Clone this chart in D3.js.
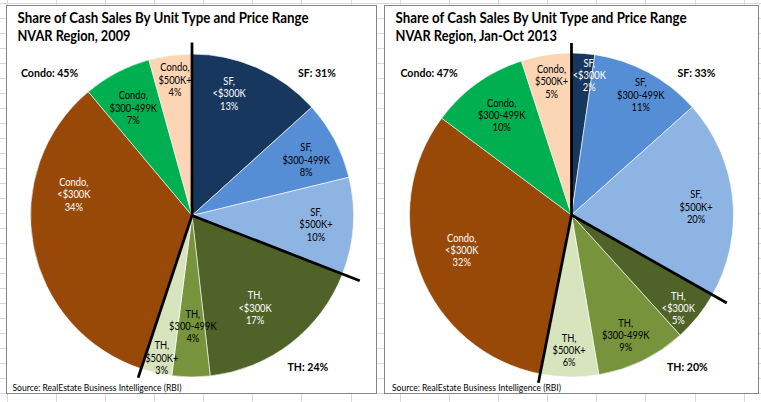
<!DOCTYPE html>
<html><head><meta charset="utf-8">
<script src="https://cdn.jsdelivr.net/npm/d3@7"></script>
<style>body{margin:0;background:#fff;} svg{display:block}</style>
</head><body><svg id="c" width="761" height="402"></svg>
<script>
// ---------- DATA ----------
const categories = ["SF, <$300K","SF, $300-499K","SF, $500K+","TH, <$300K","TH, $300-499K","TH, $500K+","Condo, <$300K","Condo, $300-499K","Condo, $500K+"];
const groupOf = ["SF","SF","SF","TH","TH","TH","Condo","Condo","Condo"];
const values2009 = [13.3,7.9,9.7,17.3,3.8,3.1,33.8,6.8,4.3];
const values2013 = [2.3,11.1,19.8,5.1,9.0,5.8,32.1,9.8,5.0];
const titles2009 = ["Share of Cash Sales By Unit Type and Price Range","NVAR Region, 2009"];
const titles2013 = ["Share of Cash Sales By Unit Type and Price Range","NVAR Region, Jan-Oct 2013"];
const sourceText = "Source: RealEstate Business Intelligence (RBI)";

// ---------- STYLE / LAYOUT ----------
const colors = ["#17375E","#558ED5","#8EB4E3","#4F6228","#77933C","#D7E4BD","#984807","#00B050","#FCD5B5"];
const textColors = ["#fff","#000","#000","#fff","#000","#000","#fff","#000","#000"];
const FONT = "Lato, 'Open Sans', sans-serif";

const panels = [
  {values: values2009, titles: titles2009, titleW:[291,113], x:6.5, y:5.5, w:370, h:388, cx:192, cy:215.5, r:161.5,
   labelR:[127.5,127,124.3,111.8,111,145.5,120,122.6,136.8],
   labelShift:[-7,1.9,0.4,3.3,-0.8,-0.8,20.8,-0.9,0.6],
   dividerLen:[173,180,171]},
  {values: values2013, titles: titles2013, titleW:[291,161.5], x:384.5, y:5.5, w:374, h:388, cx:571.5, cy:215, r:162,
   labelR:[141,138.7,124.8,141.8,131.7,135,115.2,122,134.8],
   labelShift:[3.1,1.7,2.3,2.4,1.6,0.3,3.4,0.7,0.5],
   dividerLen:[172,178.5,171]}
];

const svg = d3.select("#c");

// Excel-like gridlines background
const grid = svg.append("g").attr("stroke","#d9d9d9").attr("stroke-width",1);
for (let y = 3; y < 402; y += 15) grid.append("line").attr("x1",0).attr("x2",761).attr("y1",Math.round(y)+0.5).attr("y2",Math.round(y)+0.5);
for (let x = 6.5; x < 761; x += 49.15) grid.append("line").attr("y1",0).attr("y2",402).attr("x1",Math.round(x)+0.5).attr("x2",Math.round(x)+0.5);

function squeeze(t, factor){
  t.each(function(){
    const len = this.getComputedTextLength();
    d3.select(this).attr("textLength", len*factor).attr("lengthAdjust","spacingAndGlyphs");
  });
}
function fitWidth(t, w){
  t.attr("textLength", w).attr("lengthAdjust","spacingAndGlyphs");
}

const pie = d3.pie().sort(null).value(d => d);

panels.forEach(p => {
  const g = svg.append("g");
  g.append("rect").attr("x",p.x).attr("y",p.y).attr("width",p.w).attr("height",p.h)
    .attr("fill","#fff").attr("stroke","#868686").attr("stroke-width",1);

  // Titles
  const titleY = [23.3, 41];
  p.titles.forEach((tt,k) => {
    const t = g.append("text").attr("x",p.x+11).attr("y",titleY[k]).text(tt)
      .attr("font-family",FONT).attr("font-weight","bold").attr("font-size",14.3).attr("fill","#000");
    fitWidth(t, p.titleW[k]);
  });

  const arcs = pie(p.values);
  const arc = d3.arc().innerRadius(0).outerRadius(p.r);
  const pg = g.append("g").attr("transform",`translate(${p.cx},${p.cy})`);
  pg.selectAll("path").data(arcs).join("path")
    .attr("d",arc).attr("fill",(d,i)=>colors[i]).attr("stroke","#fff").attr("stroke-width",0.6);

  // Divider lines between unit types
  const total = d3.sum(p.values);
  const groupNames = ["SF","TH","Condo"];
  const groupSums = groupNames.map(gn => d3.sum(p.values.filter((v,i)=>groupOf[i]===gn)));
  const boundaries = [0, groupSums[0], groupSums[0]+groupSums[1]].map(v => v/total*2*Math.PI);
  boundaries.forEach((a,i) => {
    pg.append("line").attr("x1",0).attr("y1",0)
      .attr("x2",Math.sin(a)*p.dividerLen[i]).attr("y2",-Math.cos(a)*p.dividerLen[i])
      .attr("stroke","#000").attr("stroke-width",2.75);
  });

  // Slice labels
  arcs.forEach((d,i) => {
    const mid = (d.startAngle+d.endAngle)/2 + p.labelShift[i]*Math.PI/180;
    const lx = Math.sin(mid)*p.labelR[i], ly = -Math.cos(mid)*p.labelR[i];
    const parts = categories[i].split(" ");
    const lines = [parts[0], parts.slice(1).join(" "), Math.round(d.value)+"%"];
    lines.forEach((ln,k) => {
      const t = pg.append("text").attr("x",lx).attr("y",ly+(k-1)*12.2+3.8)
        .attr("text-anchor","middle").attr("font-family",FONT).attr("font-size",10.6)
        .attr("fill",textColors[i]).text(ln);
      squeeze(t, 0.88);
    });
  });

  // Group totals
  const gPos = [{dx:106, y:77},{dx:95.5, y:371},{dx:-171, y:77}];
  groupNames.forEach((gn,i) => {
    const t = g.append("text").attr("x",p.cx+gPos[i].dx).attr("y",gPos[i].y)
      .attr("font-family",FONT).attr("font-weight","bold").attr("font-size",12).attr("fill","#000")
      .text(gn+": "+Math.round(groupSums[i]/total*100)+"%");
    squeeze(t, 0.88);
  });

  // Source
  const s = g.append("text").attr("x",p.cx-179.5).attr("y",390.5)
    .attr("font-family",FONT).attr("font-size",8.8).attr("fill","#000").text(sourceText);
  fitWidth(s, 169);
});
</script>
</body></html>
